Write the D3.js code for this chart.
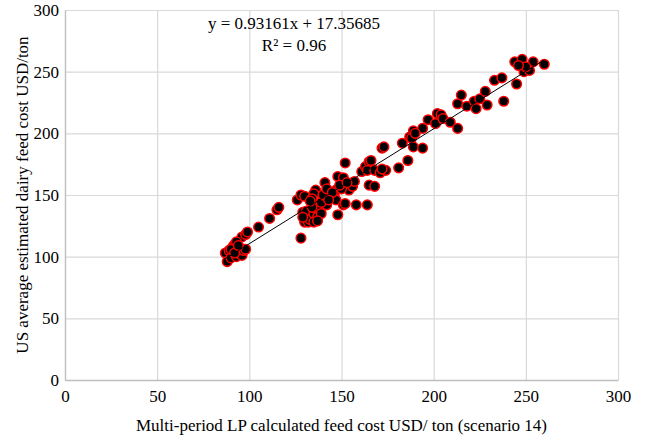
<!DOCTYPE html>
<html>
<head>
<meta charset="utf-8">
<script src="https://cdn.jsdelivr.net/npm/d3@7"></script>
<style>
	body {margin: 0; background: #fff;}
	text {font-family: "Liberation Serif", "Times New Roman", serif;}
</style>
</head>
<body>
<div id="vis"></div>
<script>
// data
const LP_COST = [87, 88, 89, 90, 91, 92, 93, 94, 95, 95, 96, 97, 98, 96, 98, 99, 93, 90, 92, 94,
	105, 111, 115, 116, 126, 128, 130, 128, 129, 130,
	131, 132, 133, 135, 136, 137, 138, 137, 136, 135, 134, 141, 142, 144, 146, 147, 147, 148, 151, 152,
	148, 151, 152, 154, 156, 157, 158, 164, 161, 163, 165, 166, 164, 168, 171, 172, 165, 168,
	139, 140, 134, 133, 139, 142, 145, 150, 143, 149, 153, 135, 137, 129,
	173, 174, 172, 181, 183, 186, 187, 189, 188, 189, 194, 194, 197, 201, 202, 204, 205, 209, 213, 213, 215, 190,
	218, 222, 223, 225, 228, 229, 233, 237, 238, 245, 244, 248, 254, 249, 252, 260, 250, 246];
const US_COST = [103, 96, 105, 99, 108, 110, 100, 104, 107, 102, 101, 105, 106, 116, 118, 120, 112, 106, 103, 109,
	124, 131, 138, 140, 146, 150, 149, 115, 136, 128,
	137, 128, 130, 135, 139, 142, 138, 132, 154, 151, 147, 160, 142, 149, 150, 154, 146, 165, 164, 176,
	134, 142, 143, 154, 157, 161, 142, 142, 169, 173, 177, 178, 170, 170, 168, 188, 158, 157,
	144, 150, 140, 145, 135, 155, 152, 155, 146, 158, 160, 128, 129, 132,
	189, 170, 171, 172, 192, 178, 197, 202, 196, 189, 188, 204, 211, 208, 216, 215, 212, 209, 204, 224, 231, 200,
	222, 226, 220, 228, 234, 223, 243, 245, 226, 240, 258, 260, 258, 250, 251, 256, 254, 255];

const X_TICKS = [0, 50, 100, 150, 200, 250, 300];
const Y_TICKS = [0, 50, 100, 150, 200, 250, 300];

// linear trend
const SLOPE = 0.93161;
const INTERCEPT = 17.35685;
const R2 = 0.96;

const FRAME_HEIGHT = 440;
const FRAME_WIDTH = 645;
const MARGINS = {left: 65, right: 27, top: 10, bottom: 60};

const VIS_HEIGHT = FRAME_HEIGHT - MARGINS.top - MARGINS.bottom;
const VIS_WIDTH = FRAME_WIDTH - MARGINS.left - MARGINS.right;

const FRAME = d3.select("#vis")
				.append("svg")
					.attr("height", FRAME_HEIGHT)
					.attr("width", FRAME_WIDTH);

const X_SCALE = d3.scaleLinear().domain([0, 300]).range([0, VIS_WIDTH]);
const Y_SCALE = d3.scaleLinear().domain([0, 300]).range([VIS_HEIGHT, 0]);

const PLOT = FRAME.append("g")
		.attr("transform", "translate(" + MARGINS.left + "," + MARGINS.top + ")");

// gridlines
PLOT.append("g")
		.call(d3.axisBottom(X_SCALE).tickValues(X_TICKS).tickSize(VIS_HEIGHT).tickFormat(""))
		.call(g => g.select(".domain").remove())
		.selectAll("line").attr("stroke", "#d9d9d9").attr("stroke-width", 1.2);
PLOT.append("g")
		.call(d3.axisLeft(Y_SCALE).tickValues(Y_TICKS).tickSize(-VIS_WIDTH).tickFormat(""))
		.call(g => g.select(".domain").remove())
		.selectAll("line").attr("stroke", "#d9d9d9").attr("stroke-width", 1.2);

// axes
const xAxis = PLOT.append("g")
		.attr("transform", "translate(0," + VIS_HEIGHT + ")")
		.call(d3.axisBottom(X_SCALE).tickValues(X_TICKS).tickSize(0).tickPadding(10));
const yAxis = PLOT.append("g")
		.call(d3.axisLeft(Y_SCALE).tickValues(Y_TICKS).tickSize(0).tickPadding(6));

[xAxis, yAxis].forEach(a => {
	a.select(".domain").attr("stroke", "#bfbfbf").attr("stroke-width", 1.3);
	a.selectAll("text")
		.attr("font-family", "Liberation Serif")
		.attr("font-size", "17px")
		.attr("fill", "#000");
});

// points
const points = LP_COST.map((x, i) => ({x: x, y: US_COST[i]}));

PLOT.selectAll(".pt")
		.data(points)
		.enter()
		.append("circle")
			.attr("class", "pt")
			.attr("cx", d => X_SCALE(d.x))
			.attr("cy", d => Y_SCALE(d.y))
			.attr("r", 4.8)
			.attr("fill", "#000")
			.attr("stroke", "#ff0000")
			.attr("stroke-width", 1.5);

// trendline across the data range
const X_MIN = d3.min(LP_COST);
const X_MAX = d3.max(LP_COST);
PLOT.append("line")
		.attr("x1", X_SCALE(X_MIN))
		.attr("y1", Y_SCALE(SLOPE * X_MIN + INTERCEPT))
		.attr("x2", X_SCALE(X_MAX))
		.attr("y2", Y_SCALE(SLOPE * X_MAX + INTERCEPT))
		.attr("stroke", "#000")
		.attr("stroke-width", 1);

// equation label
const eq = FRAME.append("text")
		.attr("x", 294)
		.attr("text-anchor", "middle")
		.attr("font-size", "17px");
eq.append("tspan").attr("x", 294).attr("y", 29)
		.text("y = " + SLOPE + "x + " + INTERCEPT);
eq.append("tspan").attr("x", 294).attr("y", 51)
		.text("R² = " + R2);

// axis titles
FRAME.append("text")
		.attr("x", MARGINS.left + VIS_WIDTH / 2)
		.attr("y", 431)
		.attr("text-anchor", "middle")
		.attr("font-size", "17px")
		.text("Multi-period LP calculated feed cost USD/ ton (scenario 14)");

FRAME.append("text")
		.attr("transform", "translate(28," + (MARGINS.top + VIS_HEIGHT / 2) + ") rotate(-90)")
		.attr("text-anchor", "middle")
		.attr("font-size", "17px")
		.text("US average estimated dairy feed cost USD/ton");
</script>
</body>
</html>
